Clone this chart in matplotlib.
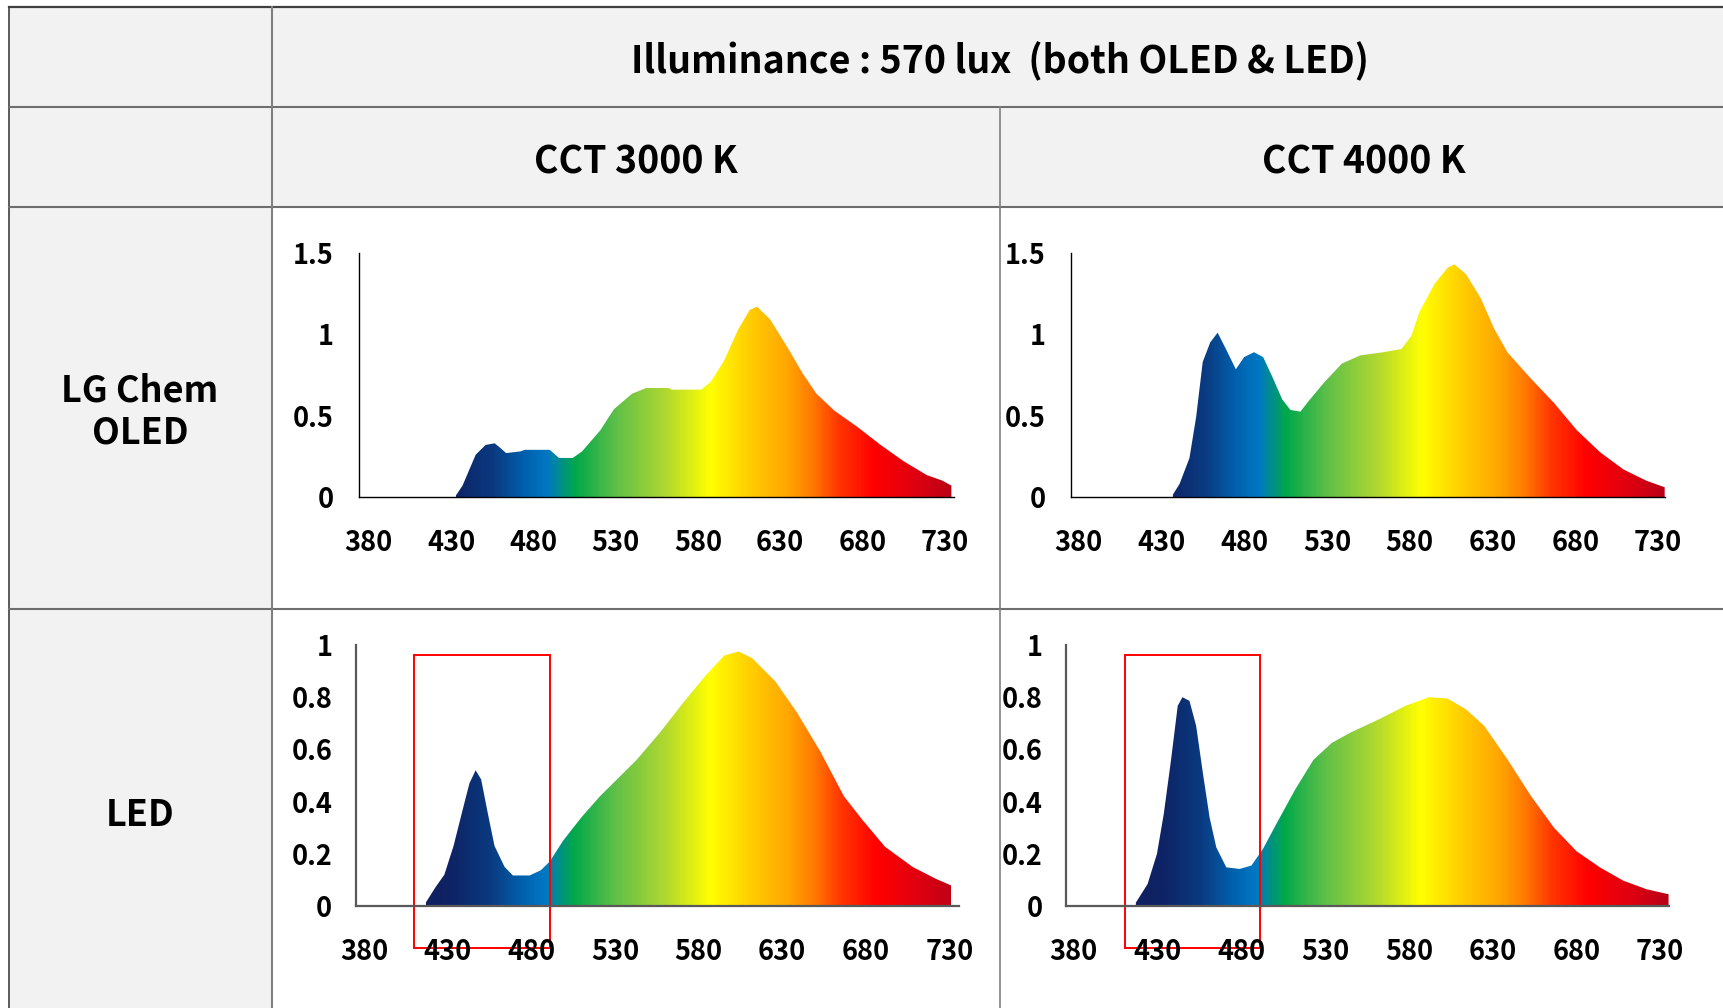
import numpy as np
import matplotlib
matplotlib.use("Agg")
import matplotlib.pyplot as plt
from matplotlib.colors import LinearSegmentedColormap
from matplotlib.patches import Rectangle

plt.rcParams['font.family'] = ['Noto Sans CJK KR', 'DejaVu Sans']
plt.rcParams['font.weight'] = 'bold'

#----- data -----#
title = 'Illuminance : 570 lux  (both OLED & LED)'
col_labels = ['CCT 3000 K', 'CCT 4000 K']
row_labels = ['LG Chem\nOLED', 'LED']
x_ticks = [380, 430, 480, 530, 580, 630, 680, 730]

oled_3000_wl = [433, 437, 445, 451, 456.5, 459, 463.5, 472, 475, 490, 495.6, 504, 509.6,
                520.7, 529, 540, 548.6, 562.6, 564, 582, 588, 596, 604.5, 611.5, 616,
                624, 635, 643.6, 652, 663, 677, 691, 705, 719, 728.7, 734]
oled_3000_val = [0.01, 0.07, 0.26, 0.32, 0.33, 0.31, 0.27, 0.28, 0.29, 0.29, 0.24, 0.24, 0.28,
                 0.41, 0.54, 0.635, 0.67, 0.67, 0.66, 0.66, 0.71, 0.84, 1.03, 1.15, 1.17,
                 1.09, 0.91, 0.76, 0.635, 0.53, 0.43, 0.32, 0.22, 0.135, 0.10, 0.07]

oled_4000_wl = [437, 441, 447, 451, 455, 459.5, 464, 469, 475, 480, 486, 491.5, 497, 503,
                508, 514, 519, 528, 539, 550, 564, 575, 581, 586, 595, 603, 607, 614, 623,
                631, 639, 653, 667, 681, 695, 709, 723, 734]
oled_4000_val = [0.015, 0.08, 0.24, 0.49, 0.83, 0.95, 1.01, 0.91, 0.785, 0.86, 0.89, 0.86, 0.74, 0.60,
                 0.535, 0.525, 0.59, 0.70, 0.82, 0.87, 0.89, 0.91, 0.99, 1.14, 1.31, 1.41, 1.43, 1.37, 1.22,
                 1.035, 0.89, 0.73, 0.58, 0.41, 0.275, 0.17, 0.10, 0.06]

led_3000_wl = [417, 422.5, 428, 433.5, 439, 443, 446.7, 450, 454, 458, 464, 469, 479, 485.7,
               491, 499, 510, 521, 532, 543, 557, 571, 584.5, 595.5, 604, 612, 626, 639,
               653, 667, 678, 691.5, 708, 722, 731]
led_3000_val = [0.014, 0.07, 0.12, 0.23, 0.37, 0.47, 0.52, 0.485, 0.355, 0.23, 0.15, 0.117, 0.117, 0.137,
                0.17, 0.25, 0.34, 0.42, 0.49, 0.56, 0.665, 0.78, 0.885, 0.96, 0.975, 0.95, 0.86, 0.74,
                0.59, 0.42, 0.33, 0.227, 0.15, 0.104, 0.079]

led_4000_wl = [417, 424, 429.6, 433.7, 438, 442, 444.8, 449, 453, 457, 461, 465, 471, 479,
               486, 493, 501, 512, 523, 534, 545, 562, 578, 592, 603, 614, 625, 639, 653,
               666.6, 680, 694, 708, 722, 735]
led_4000_val = [0.013, 0.084, 0.20, 0.354, 0.56, 0.767, 0.80, 0.786, 0.69, 0.51, 0.34, 0.225, 0.148, 0.142,
                0.155, 0.22, 0.316, 0.445, 0.56, 0.625, 0.664, 0.715, 0.767, 0.80, 0.795, 0.754, 0.69, 0.56, 0.42,
                0.30, 0.21, 0.148, 0.097, 0.064, 0.045]

# colour of the spectrum along the wavelength axis
spec_wl = [380, 433, 455, 475, 488, 505, 530, 560, 587, 610, 635, 650, 665, 687, 712, 740]
spec_col = ['#1c1650', '#0e2466', '#0a3a80', '#0062b0', '#0078c4', '#00a84a', '#60c048',
            '#b0d830', '#ffff00', '#ffd000', '#ffa400', '#ff7800', '#ff3800', '#ff0000',
            '#e00010', '#b00018']

W, H = 1724, 1008
fig = plt.figure(figsize=(W / 100, H / 100), dpi=100)

#----- table background -----#
bg = fig.add_axes([0, 0, 1, 1])
bg.set_xlim(0, W)
bg.set_ylim(H, 0)
bg.axis('off')
grey = '#f2f2f2'
bg.add_patch(Rectangle((9, 7), W - 9, 200, facecolor=grey, edgecolor='none'))
bg.add_patch(Rectangle((9, 207), 263, H - 207, facecolor=grey, edgecolor='none'))
bg.plot([9, W], [7, 7], color='#404040', lw=1.6)
bg.plot([9, 9], [7, H], color='#404040', lw=1.2)
for yy in [107, 207, 609]:
    bg.plot([9, W], [yy, yy], color='#6e6e6e', lw=1.5)
bg.plot([272, 272], [7, H], color='#808080', lw=1.5)
bg.plot([1000, 1000], [107, H], color='#808080', lw=1.2)

bg.text(1000, 61, title, ha='center', va='center', fontsize=27, fontweight='bold')
bg.text(636, 162, col_labels[0], ha='center', va='center', fontsize=27, fontweight='bold')
bg.text(1364, 162, col_labels[1], ha='center', va='center', fontsize=27, fontweight='bold')
bg.text(140, 412, row_labels[0], ha='center', va='center', fontsize=26, fontweight='bold',
        linespacing=1.15)
bg.text(140, 815, row_labels[1], ha='center', va='center', fontsize=26, fontweight='bold')

cmap = LinearSegmentedColormap.from_list(
    'spec', [((w - spec_wl[0]) / (spec_wl[-1] - spec_wl[0]), c) for w, c in zip(spec_wl, spec_col)])


def panel(l, r, t, b, xlim, ylim, yticks, ylabels, wl, val, spine_col, spine_w, ypad, box=None):
    ax = fig.add_axes([l / W, 1 - b / H, (r - l) / W, (b - t) / H])
    ax.patch.set_alpha(0)
    poly = ax.fill_between(wl, val, 0, facecolor='none', edgecolor='none')
    grad = np.linspace(0, 1, 600).reshape(1, -1)
    im = ax.imshow(grad, extent=[spec_wl[0], spec_wl[-1], 0, ylim[1]], aspect='auto',
                   cmap=cmap, origin='lower', interpolation='bilinear')
    im.set_clip_path(poly.get_paths()[0], transform=ax.transData)
    ax.set_xlim(*xlim)
    ax.set_ylim(*ylim)
    ax.set_xticks(x_ticks)
    ax.set_xticklabels([str(v) for v in x_ticks])
    ax.set_yticks(yticks)
    ax.set_yticklabels(ylabels)
    ax.tick_params(length=0, labelsize=19.5)
    ax.tick_params(axis='x', pad=23)
    ax.tick_params(axis='y', pad=ypad)
    for lab in ax.get_xticklabels() + ax.get_yticklabels():
        lab.set_fontweight('bold')
    for s in ['top', 'right']:
        ax.spines[s].set_visible(False)
    for s in ['left', 'bottom']:
        ax.spines[s].set_color(spine_col)
        ax.spines[s].set_linewidth(spine_w)
    if box is not None:
        ax.add_patch(Rectangle((box[0], box[2]), box[1] - box[0], box[3] - box[2],
                               facecolor='none', edgecolor='#ff0000', lw=1.4, clip_on=False))
    return ax


oled_ticks = [0, 0.5, 1, 1.5]
oled_lbls = ['0', '0.5', '1', '1.5']
led_ticks = [0, 0.2, 0.4, 0.6, 0.8, 1]
led_lbls = ['0', '0.2', '0.4', '0.6', '0.8', '1']

panel(359.5, 954, 253, 497, (374.4, 735.6), (0, 1.5), oled_ticks, oled_lbls,
      oled_3000_wl, oled_3000_val, '#000000', 1.0, 18.5)
panel(1070.6, 1665, 253, 497, (375.2, 734.2), (0, 1.5), oled_ticks, oled_lbls,
      oled_4000_wl, oled_4000_val, '#000000', 1.0, 18)
panel(355.9, 958.7, 645, 906, (375.1, 735.6), (0, 1.0), led_ticks, led_lbls,
      led_3000_wl, led_3000_val, '#595959', 1.6, 17, box=(410, 491, -0.16, 0.96))
panel(1066, 1669.4, 645, 906, (375.3, 735.5), (0, 1.0), led_ticks, led_lbls,
      led_4000_wl, led_4000_val, '#595959', 1.6, 17, box=(410.5, 491, -0.16, 0.96))

fig.savefig('out.png', dpi=100, facecolor='white')
